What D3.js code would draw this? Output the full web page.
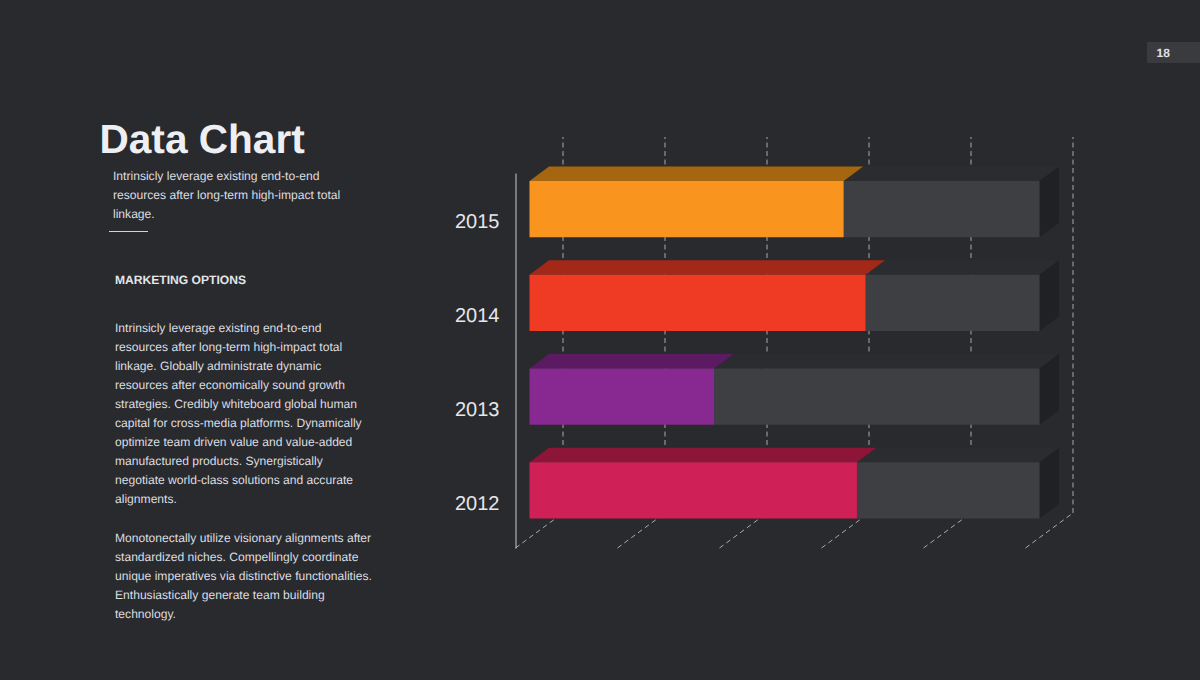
<!DOCTYPE html>
<html><head><meta charset="utf-8">
<script src="https://cdn.jsdelivr.net/npm/d3@7"></script>
<style>html,body{margin:0;padding:0;background:#292a2e;overflow:hidden}svg{display:block;font-family:"Liberation Sans",Arial,sans-serif;text-rendering:geometricPrecision}</style>
</head><body><svg id="c" width="1200" height="680"></svg>
<script>
const years = ["2015","2014","2013","2012"];
const values = [61.6,65.9,36.2,64.2];
const totals = [100,100,100,100];
const colors = ["#f9951f","#ef3b24","#872990","#d02058"];
const topColors = ["#a5660f","#a32817","#5c1a63","#8d1538"];
const xTicks = [0,20,40,60,80,100];
const introLines = ["Intrinsicly leverage existing end-to-end","resources after long-term high-impact total","linkage."];
const bodyLines = ["Intrinsicly leverage existing end-to-end","resources after long-term high-impact total","linkage. Globally administrate dynamic","resources after economically sound growth","strategies. Credibly whiteboard global human","capital for cross-media platforms. Dynamically","optimize team driven value and value-added","manufactured products. Synergistically","negotiate world-class solutions and accurate","alignments."];
const body2Lines = ["Monotonectally utilize visionary alignments after","standardized niches. Compellingly coordinate","unique imperatives via distinctive functionalities.","Enthusiastically generate team building","technology."];

const svg = d3.select("#c");
svg.append("rect").attr("width",1200).attr("height",680).attr("fill","#292a2e");

// page tag
svg.append("rect").attr("x",1147).attr("y",42).attr("width",53).attr("height",21).attr("fill","#3a3b3f");
svg.append("text").attr("x",1156.5).attr("y",57).attr("font-size",12).attr("font-weight",700).attr("fill","#e0e1e4").text("18");

// left column
svg.append("text").attr("x",99.5).attr("y",153).attr("font-size",40.6).attr("font-weight",700).attr("fill","#eeeff3").text("Data Chart");
const para=(lines,x,y,lh)=>svg.append("g").selectAll("text").data(lines).join("text")
  .attr("x",x).attr("y",(d,i)=>y+i*lh).attr("font-size",12.1).attr("fill","#dcdde0").text(d=>d);
para(introLines,113,180,19);
svg.append("line").attr("x1",109).attr("x2",148).attr("y1",231.5).attr("y2",231.5).attr("stroke","#d2d3d6").attr("stroke-width",1);
svg.append("text").attr("x",115).attr("y",284).attr("font-size",12.1).attr("font-weight",700).attr("fill","#e4e5e8").text("MARKETING OPTIONS");
para(bodyLines,115,332,19);
para(body2Lines,115,542,19);

// scales
const x = d3.scaleLinear().domain([0,100]).range([515.5,1025.5]);
const y = d3.scaleBand().domain(years).range([173,548]).paddingInner(0.4).paddingOuter(0.2);
const back = {dx:47.5, dy:-35};
const bar = {dx:14, dy:-10.75};
const depth = {dx:19.5, dy:-14.5};
const floorY = 548;

// grid
const grid = svg.append("g").attr("fill","none").attr("stroke","#a8a9ac").attr("stroke-width",1).attr("stroke-dasharray","5,3.5");
grid.selectAll("line.v").data(xTicks).join("line").attr("class","v")
  .attr("x1",d=>x(d)+back.dx).attr("x2",d=>x(d)+back.dx)
  .attr("y1",floorY+back.dy).attr("y2",137);
grid.selectAll("line.f").data(xTicks).join("line").attr("class","f")
  .attr("x1",d=>x(d)).attr("y1",floorY)
  .attr("x2",d=>x(d)+back.dx).attr("y2",floorY+back.dy);

// bars
const line = d3.line();
const g = svg.append("g").selectAll("g").data(years).join("g")
  .attr("transform",`translate(${bar.dx},${bar.dy})`);
const by = (i)=>y(years[i]), bh = y.bandwidth();
const box = (x0,x1,t)=>line([[x0,t],[x0+depth.dx,t+depth.dy],[x1+depth.dx,t+depth.dy],[x1,t]])+"Z";
// track
g.append("path").attr("d",(d,i)=>box(x(values[i]),x(totals[i]),by(i))).attr("fill","#2b2c30");
g.append("path").attr("d",(d,i)=>{const X=x(totals[i]),t=by(i);return line([[X,t],[X+depth.dx,t+depth.dy],[X+depth.dx,t+bh+depth.dy],[X,t+bh]])+"Z";}).attr("fill","#202125");
g.append("rect").attr("x",(d,i)=>x(values[i])).attr("y",(d,i)=>by(i)).attr("width",(d,i)=>x(totals[i])-x(values[i])).attr("height",bh).attr("fill","#3e3f43");
// value
g.append("path").attr("d",(d,i)=>box(x(0),x(values[i]),by(i))).attr("fill",(d,i)=>topColors[i]);
g.append("rect").attr("x",x(0)).attr("y",(d,i)=>by(i)).attr("width",(d,i)=>x(values[i])-x(0)).attr("height",bh).attr("fill",(d,i)=>colors[i]);

// year axis
const ax = svg.append("g").attr("transform",`translate(${x(0)},0)`).call(d3.axisLeft(y).tickSize(0).tickPadding(16));
ax.select(".domain").attr("stroke","#c9cacd").attr("stroke-width",1);
ax.selectAll("text").attr("font-size",20).attr("font-family","'Liberation Sans',Arial,sans-serif").attr("fill","#e6e7ea").attr("dy","0.42em");
</script></body></html>
